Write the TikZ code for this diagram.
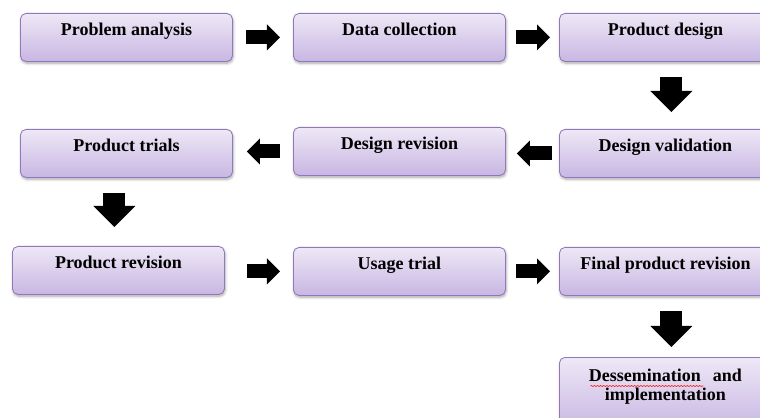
\documentclass[tikz,border=0pt]{standalone}
\usepackage{fontspec}
\setmainfont{Liberation Serif}
\usetikzlibrary{arrows.meta,shadows.blur,decorations.pathmorphing}
\definecolor{boxtop}{HTML}{EEE8F6}
\definecolor{boxbot}{HTML}{C8B6E2}
\definecolor{boxline}{HTML}{9177BB}
\tikzset{
  stage/.style={draw=boxline, line width=0.6pt, rounded corners=0.14cm,
    top color=boxtop, bottom color=boxbot, anchor=north west,
    minimum width=5.3cm, inner ysep=0pt, text height=0.5625cm, text depth=0.6375cm,
    font=\fontsize{12.8}{15}\selectfont\bfseries,
    blur shadow={shadow xshift=0.5pt, shadow yshift=-1.3pt, shadow blur steps=4, shadow opacity=35}},
  fat/.style={line width=0.35cm, -{Triangle[width=0.65cm,length=0.325cm,line width=0pt]}},
  fatdown/.style={line width=0.55cm, -{Triangle[width=1.05cm,length=0.525cm,line width=0pt]}},
}
\begin{document}
\begin{tikzpicture}[x=0.025cm,y=-0.025cm]
\useasboundingbox (0,0) rectangle (760,418);
% row one
\node[stage] (pa) at (20,13) {Problem analysis};
\node[stage] (dc) at (293,13) {Data collection};
\node[stage] (pd) at (559,13) {Product design};
% row two
\node[stage] (dv) at (559,129) {Design validation};
\node[stage] (dr) at (293,127) {Design revision};
\node[stage] (pt) at (20,129) {Product trials};
% row three
\node[stage] (pr) at (12,246) {Product revision};
\node[stage] (ut) at (293,247) {Usage trial};
\node[stage] (fr) at (559,247) {Final product revision};
% last one, runs off the page
\node[stage, text width=5cm, align=center, text height=0.6125cm, text depth=1.2cm,
  font=\fontsize{12.8}{13.5}\selectfont\bfseries] (di) at (559,357)
  {Dessemination\ \ and\\implementation};
\draw[red, line width=0.4pt, decorate, decoration={snake, amplitude=0.35pt, segment length=2.2pt}]
  ([shift={(-75,29)}]di.north) -- ([shift={(38,29)}]di.north);
% arrows
\draw[fat, shorten <=0.325cm, shorten >=0.325cm] (pa.east) -- (dc.west);
\draw[fat, shorten <=0.25cm, shorten >=0.225cm] (dc.east) -- (pd.west);
\draw[fatdown, shorten <=0.375cm, shorten >=0.425cm] ([xshift=0.15cm]pd.south) -- ([xshift=0.15cm]pd.south |- dv.north);
\draw[fat, shorten <=0.175cm, shorten >=0.275cm] (dv.west) -- (dv.west -| dr.east);
\draw[fat, shorten <=0.325cm, shorten >=0.35cm] (dr.west) -- (dr.west -| pt.east);
\draw[fatdown, shorten <=0.375cm, shorten >=0.475cm] ([xshift=-0.3cm]pt.south) -- ([xshift=-0.3cm]pt.south |- pr.north);
\draw[fat, shorten <=0.55cm, shorten >=0.325cm] (ut.west -| pr.east) -- (ut.west);
\draw[fat, shorten <=0.25cm, shorten >=0.225cm] (ut.east) -- (fr.west);
\draw[fatdown, shorten <=0.375cm, shorten >=0.25cm] ([xshift=0.15cm]fr.south) -- ([xshift=0.15cm]fr.south |- di.north);
\end{tikzpicture}
\end{document}
